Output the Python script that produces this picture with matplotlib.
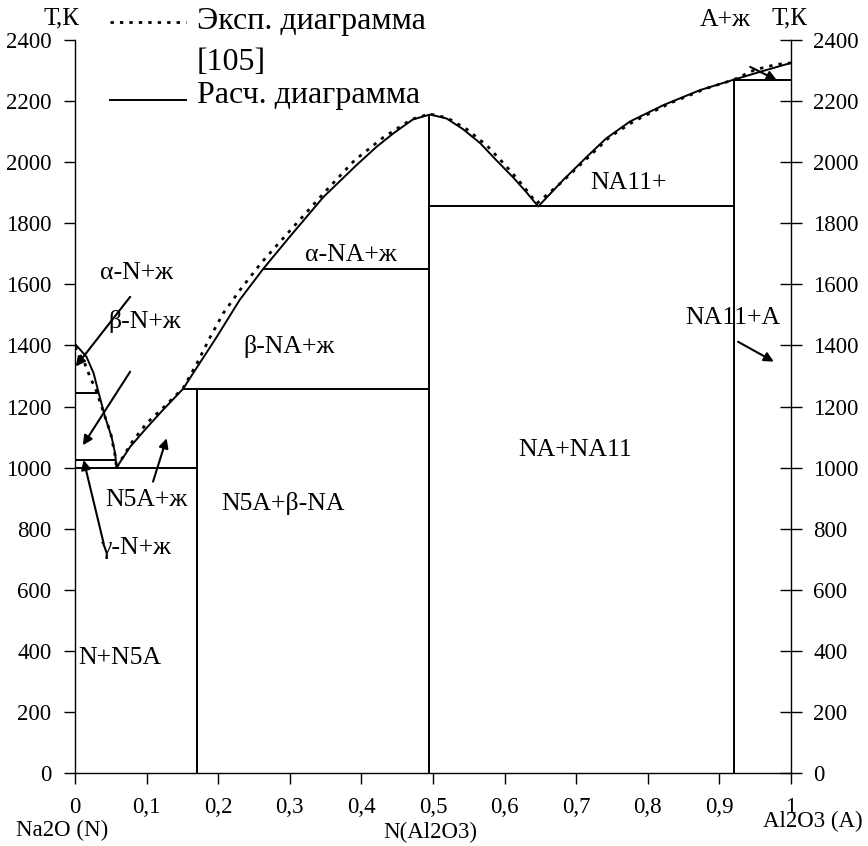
import matplotlib
matplotlib.use("Agg")
import matplotlib.pyplot as plt
from matplotlib.lines import Line2D

plt.rcParams['font.family'] = ['Liberation Serif', 'DejaVu Serif']

# ---------------- data ----------------
# calculated liquidus (solid)
calc_left_x = [0.0, 0.016, 0.026, 0.033, 0.042, 0.051, 0.056, 0.058]
calc_left_T = [1405, 1363, 1309, 1245, 1166, 1101, 1047, 1000]
calc_main_x = [0.058, 0.077, 0.100, 0.123, 0.151, 0.165, 0.198, 0.230, 0.263, 0.300,
               0.347, 0.393, 0.421, 0.445, 0.472, 0.496, 0.519, 0.542, 0.566, 0.589,
               0.612, 0.631, 0.647, 0.682, 0.715, 0.742, 0.775, 0.822, 0.873, 0.920,
               0.960, 1.000]
calc_main_T = [1000, 1068, 1130, 1189, 1258, 1309, 1428, 1549, 1651, 1756,
               1886, 1990, 2050, 2095, 2140, 2156, 2143, 2108, 2062, 2005,
               1950, 1900, 1855, 1942, 2018, 2078, 2133, 2187, 2236, 2270,
               2298, 2325]

# experimental liquidus [105] (dotted)
exp_left_x = [0.0, 0.012, 0.021, 0.030, 0.040, 0.050, 0.056, 0.058]
exp_left_T = [1395, 1350, 1297, 1250, 1180, 1110, 1040, 1000]
exp_main_x = [0.058, 0.080, 0.100, 0.125, 0.151, 0.170, 0.189, 0.207, 0.230, 0.260,
              0.300, 0.350, 0.390, 0.430, 0.470, 0.495, 0.520, 0.547, 0.575, 0.603,
              0.625, 0.645, 0.680, 0.715, 0.747, 0.780, 0.830, 0.880, 0.920, 0.950,
              0.980, 1.000]
exp_main_T = [1000, 1085, 1145, 1200, 1260, 1340, 1428, 1505, 1580, 1670,
              1775, 1905, 2005, 2080, 2140, 2158, 2145, 2108, 2055, 1985,
              1925, 1865, 1935, 2012, 2083, 2133, 2192, 2240, 2270, 2303,
              2320, 2325]

# phase boundaries
h_T = [1000, 1025, 1245, 1258, 1650, 1855, 2270]
h_x0 = [0.0, 0.0, 0.0, 0.151, 0.263, 0.495, 0.920]
h_x1 = [0.170, 0.056, 0.033, 0.495, 0.495, 0.920, 1.000]
v_x = [0.170, 0.495, 0.920]
v_T = [1258, 2156, 2270]

# region labels
labels = ["α-N+ж", "β-N+ж", "N5A+ж", "γ-N+ж", "N+N5A", "N5A+β-NA", "β-NA+ж",
          "α-NA+ж", "NA+NA11", "NA11+", "NA11+A"]
label_x = [0.035, 0.046, 0.042, 0.035, 0.004, 0.205, 0.235, 0.321, 0.619, 0.720, 0.853]
label_T = [1637, 1477, 894, 737, 377, 884, 1395, 1696, 1058, 1932, 1490]

# arrows (tail -> head)
arr_tail = [(0.077, 1559), (0.077, 1314), (0.109, 954), (0.040, 752), (0.926, 1412), (0.943, 2312)]
arr_head = [(0.001, 1331), (0.011, 1073), (0.128, 1096), (0.012, 1025), (0.976, 1347), (0.980, 2269)]

x_ticks = [0, 0.1, 0.2, 0.3, 0.4, 0.5, 0.6, 0.7, 0.8, 0.9, 1.0]
x_ticklabels = ["0", "0,1", "0,2", "0,3", "0,4", "0,5", "0,6", "0,7", "0,8", "0,9", "1"]
y_ticks = [0, 200, 400, 600, 800, 1000, 1200, 1400, 1600, 1800, 2000, 2200, 2400]

# ---------------- figure ----------------
fig = plt.figure(figsize=(8.68, 8.46), dpi=100)
ax = fig.add_axes([75 / 868, 73 / 846, 716 / 868, 733 / 846])
ax.set_xlim(0, 1)
ax.set_ylim(0, 2400)

lw = 1.4
dot = (0, (1.2, 2.2))
ax.plot(exp_left_x, exp_left_T, color='black', lw=2.0, ls=dot)
ax.plot(exp_main_x, exp_main_T, color='black', lw=2.0, ls=dot)
ax.plot(calc_left_x, calc_left_T, color='black', lw=lw)
ax.plot(calc_main_x, calc_main_T, color='black', lw=lw)
ax.hlines(h_T, h_x0, h_x1, color='black', lw=lw)
ax.vlines(v_x, 0, v_T, color='black', lw=lw)

for t, x, y in zip(labels, label_x, label_T):
    ax.text(x, y, t, fontsize=18.5, ha='left', va='center')
ax.text(0.873, 2466, "A+ж", fontsize=18.5, ha='left', va='center', clip_on=False)

for (tx, ty), (hx, hy) in zip(arr_tail, arr_head):
    ax.annotate('', xy=(hx, hy), xytext=(tx, ty),
                arrowprops=dict(arrowstyle='-|>', lw=1.5, color='black',
                                mutation_scale=14, shrinkA=0, shrinkB=0),
                annotation_clip=False)

# axes styling
ax.spines['top'].set_visible(False)
ax.spines['right'].set_visible(False)
for s in ['left', 'bottom']:
    ax.spines[s].set_linewidth(1.0)
ax.set_xticks(x_ticks)
ax.set_xticklabels(x_ticklabels)
ax.set_yticks(y_ticks)
ax.tick_params(axis='x', direction='out', length=8, width=1, pad=9, labelsize=16.5)
ax.tick_params(axis='y', direction='out', length=8, width=1, pad=9, labelsize=16.5)

ax2 = ax.twinx()
ax2.set_ylim(0, 2400)
ax2.set_yticks(y_ticks)
for s in ['top', 'left', 'bottom']:
    ax2.spines[s].set_visible(False)
ax2.spines['right'].set_linewidth(1.0)
ax2.tick_params(axis='y', direction='inout', length=16, width=1, pad=8, labelsize=16.5)

# axis captions
fig.text(62 / 868, 1 - 18 / 846, "Т,К", fontsize=18, ha='center', va='center')
fig.text(790 / 868, 1 - 18 / 846, "Т,К", fontsize=18, ha='center', va='center')
fig.text(62 / 868, 1 - 830 / 846, "Na2O (N)", fontsize=16.5, ha='center', va='center')
fig.text(430 / 868, 1 - 832 / 846, "N(Al2O3)", fontsize=16.5, ha='center', va='center')
fig.text(763 / 868, 1 - 821 / 846, "Al2O3 (A)", fontsize=16.5, ha='left', va='center')

# legend (drawn manually)
fig.add_artist(Line2D([110 / 868, 186 / 868], [1 - 22 / 846, 1 - 22 / 846],
                      color='black', lw=2.0, ls=dot))
fig.add_artist(Line2D([110 / 868, 186 / 868], [1 - 100 / 846, 1 - 100 / 846],
                      color='black', lw=1.4))
fig.text(197 / 868, 1 - 22 / 846, "Эксп. диаграмма", fontsize=23, ha='left', va='center')
fig.text(197 / 868, 1 - 62 / 846, "[105]", fontsize=23, ha='left', va='center')
fig.text(197 / 868, 1 - 95 / 846, "Расч. диаграмма", fontsize=23, ha='left', va='center')

fig.savefig("out.png", dpi=100)
